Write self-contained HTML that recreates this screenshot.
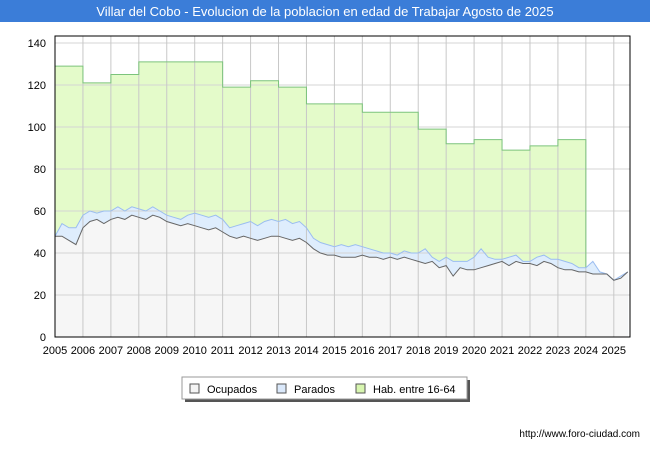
<!DOCTYPE html>
<html><head><meta charset="utf-8"><style>
body{margin:0;width:650px;height:450px;background:#fff;font-family:"Liberation Sans",sans-serif;overflow:hidden}
</style></head><body>
<svg width="650" height="450" xmlns="http://www.w3.org/2000/svg">
<rect x="0" y="0" width="650" height="22" fill="#3b7dd8"/>
<text x="325" y="16" text-anchor="middle" font-size="13" fill="#fff">Villar del Cobo - Evolucion de la poblacion en edad de Trabajar Agosto de 2025</text>
<g id="plot"></g>
<g>
<rect x="185" y="380" width="285" height="22" fill="#555"/>
<rect x="182" y="377" width="285" height="22" fill="#fff" stroke="#999"/>
<rect x="190" y="384" width="9" height="9" fill="#f4f4f4" stroke="#555"/>
<text x="207" y="393" font-size="11">Ocupados</text>
<rect x="277" y="384" width="9" height="9" fill="#dbe9fb" stroke="#555"/>
<text x="294" y="393" font-size="11">Parados</text>
<rect x="356" y="384" width="9" height="9" fill="#d8f6b0" stroke="#555"/>
<text x="373" y="393" font-size="11">Hab. entre 16-64</text>
</g>
<text x="640" y="437" text-anchor="end" font-size="10">http://www.foro-ciudad.com</text>
</svg>
<script>
const habYears=[2005,2006,2007,2008,2009,2010,2011,2012,2013,2014,2015,2016,2017,2018,2019,2020,2021,2022,2023];
const habValues=[129,121,125,131,131,131,119,122,119,111,111,107,107,99,92,94,89,91,94];
const ocupados=[48,48,46,44,52,55,56,54,56,57,56,58,57,56,58,57,55,54,53,54,53,52,51,52,50,48,47,48,47,46,47,48,48,47,46,47,45,42,40,39,39,38,38,38,39,38,38,37,38,37,38,37,36,35,36,33,34,29,33,32,32,33,34,35,36,34,36,35,35,34,36,35,33,32,32,31,31,30,30,30,27,28,31];
const totalActivos=[48,54,52,52,58,60,59,60,60,62,60,62,61,60,62,60,58,57,56,58,59,58,57,58,56,52,53,54,55,53,55,56,55,56,54,55,52,47,45,44,43,44,43,44,43,42,41,40,40,39,41,40,40,42,38,36,38,36,36,36,38,42,38,37,37,38,39,36,36,38,39,37,37,36,35,33,33,36,31,30,27,29,31];
const yTicks=[0,20,40,60,80,100,120,140];
const xTicks=[2005,2006,2007,2008,2009,2010,2011,2012,2013,2014,2015,2016,2017,2018,2019,2020,2021,2022,2023,2024,2025];
const X0=55,X1=630,Y0=337,YT=36,T0=2005,T1=2025.58;
const x=t=>X0+(t-T0)/(T1-T0)*(X1-X0);
const y=v=>Y0-v*(Y0-43)/140;
const tq=i=>T0+i*0.25;
const NS="http://www.w3.org/2000/svg";
const g=document.getElementById('plot');
function el(tag,attrs,name){const e=document.createElementNS(NS,tag);for(const k in attrs)e.setAttribute(k,attrs[k]);


g.appendChild(e);return e;}
el('rect',{x:X0,y:YT,width:X1-X0,height:Y0-YT,fill:'#fff'},'plot-background');
let hp=`M${x(habYears[0])},${Y0}`;
habYears.forEach((yr,i)=>{hp+=` L${x(yr)},${y(habValues[i])} L${x(yr+1)},${y(habValues[i])}`;});
const last=habYears[habYears.length-1]+1;
el('path',{d:hp+` L${x(last)},${Y0} Z`,fill:'#e4fbca',stroke:'none'},'hab-area');
const pts=(arr)=>arr.map((v,i)=>`${x(tq(i))},${y(v)}`);
const lastT=tq(totalActivos.length-1);
el('path',{d:`M${x(T0)},${Y0} L${pts(totalActivos).join(' L')} L${x(lastT)},${Y0} Z`,fill:'#deedfd'},'parados-area');
el('path',{d:`M${x(T0)},${Y0} L${pts(ocupados).join(' L')} L${x(tq(ocupados.length-1))},${Y0} Z`,fill:'#f6f6f6'},'ocupados-area');
yTicks.forEach(v=>{el('line',{x1:X0,x2:X1,y1:y(v),y2:y(v),stroke:'#d4d4d4'},'grid-y-'+v);
const t=el('text',{x:X0-9,y:y(v)+4,'text-anchor':'end','font-size':11},'y-tick-'+v);t.textContent=v;});
xTicks.forEach(v=>{el('line',{x1:x(v),x2:x(v),y1:YT,y2:Y0,stroke:'#c8c8c8'},'grid-x-'+v);
const t=el('text',{x:x(v),y:Y0+17,'text-anchor':'middle','font-size':11},'x-tick-'+v);t.textContent=v;});
const endIdx=Math.round((last-T0)*4);
const endV=totalActivos[Math.min(endIdx,totalActivos.length-1)];
el('path',{d:hp.replace(/^M[^L]*L/,'M')+` L${x(last)},${y(endV)}`,fill:'none',stroke:'#7cc47c','stroke-width':1},'hab-line');
el('path',{d:`M${pts(totalActivos).join(' L')}`,fill:'none',stroke:'#9bbdf0'},'parados-line');
el('path',{d:`M${pts(ocupados).join(' L')}`,fill:'none',stroke:'#666'},'ocupados-line');
el('rect',{x:X0,y:YT,width:X1-X0,height:Y0-YT,fill:'none',stroke:'#000'},'plot-border');
</script>
</body></html>
